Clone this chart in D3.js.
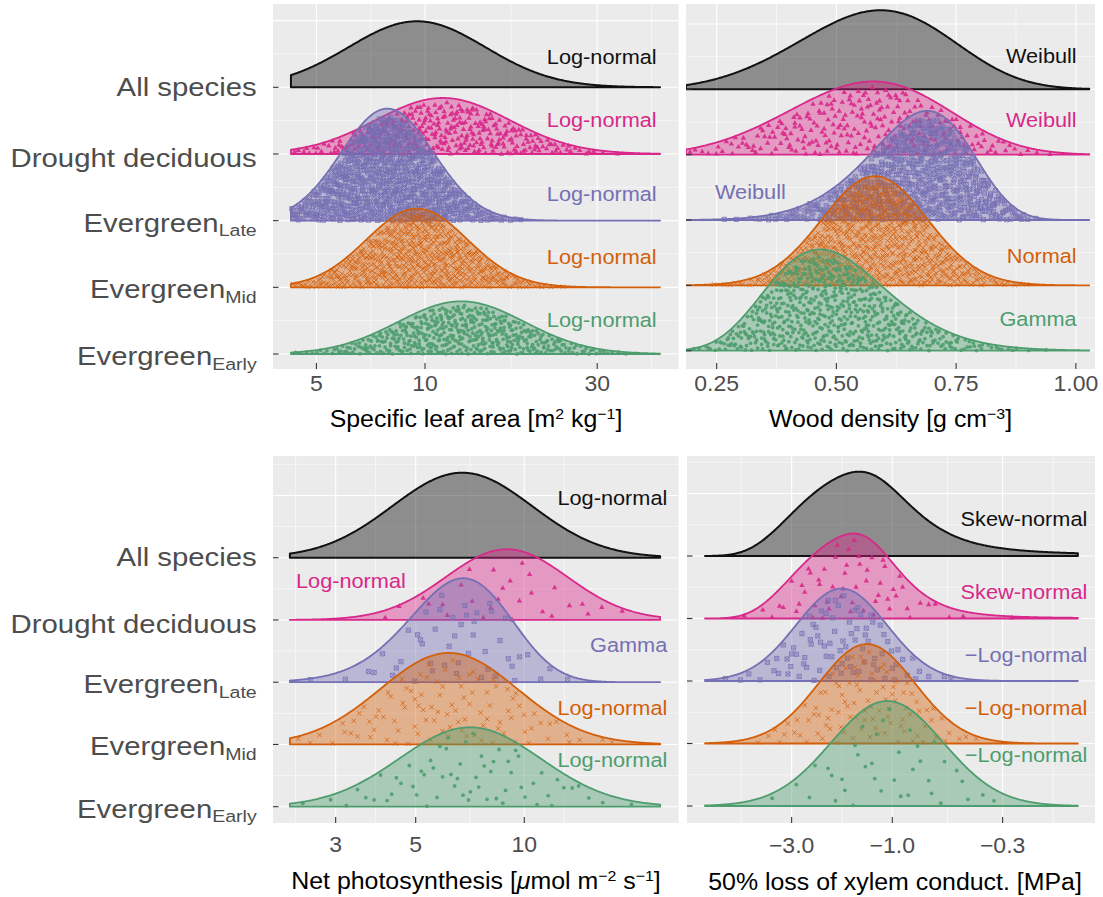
<!DOCTYPE html>
<html><head><meta charset="utf-8">
<script src="https://cdn.jsdelivr.net/npm/d3@7"></script>
<style>
body{margin:0;background:#fff;}
text{font-family:"Liberation Sans", Arial, Helvetica, sans-serif;}
</style></head><body>
<svg id="chart" width="1103" height="897"></svg>
<script>
// ---------------- DATA ----------------
const rowNames = ["All species","Drought deciduous","Evergreen","Evergreen","Evergreen"];
const rowSubs = ["","","Late","Mid","Early"];
const rowColors = ["#111111","#D8288A","#7570B3","#D35F0A","#4E9D6E"];
const rowShapes = ["none","triangle","squarecross","times","circle"];

// Specific leaf area (log axis)
const slaFamilies = ["lognormal","lognormal","lognormal","lognormal","lognormal"];
const slaFitLabels = ["Log-normal","Log-normal","Log-normal","Log-normal","Log-normal"];
const slaParams = [[9.5,0.19],[11.2,0.185],[7.86,0.128],[9.5,0.14],[12.6,0.176]];
const slaPeak = [0.99,0.84,1.68,1.18,0.79];
const slaN = [0,330,800,650,480];
const slaRange = [4.25,44.8];
const slaTicks = [5,10,30];
const slaTickLabels = ["5","10","30"];

// Wood density (linear axis)
const wdFamilies = ["weibull","weibull","weibull","normal","gamma"];
const wdFitLabels = ["Weibull","Weibull","Weibull","Normal","Gamma"];
const wdParams = [[4.2,0.632],[4,0.62],[7,0.705],[0.58,0.11],[15,0.0333]];
const wdPeak = [1.21,1.12,1.67,1.67,1.55];
const wdN = [0,260,650,750,650];
const wdRange = [0.186,1.028];
const wdTicks = [0.25,0.5,0.75,1.0];
const wdTickLabels = ["0.25","0.50","0.75","1.00"];

// Net photosynthesis (log axis)
const amaxFamilies = ["lognormal","lognormal","gamma","lognormal","lognormal"];
const amaxFitLabels = ["Log-normal","Log-normal","Gamma","Log-normal","Log-normal"];
const amaxParams = [[6.73,0.194],[8.94,0.169],[10.5,0.713],[6.18,0.19],[7.07,0.196]];
const amaxPeak = [1.365,1.136,1.67,1.47,1.275];
const amaxN = [0,28,48,100,62];
const amaxRange = [2.24,23.8];
const amaxTicks = [3,5,10];
const amaxTickLabels = ["3","5","10"];

// P50 (negative log axis)
const p50Families = ["skewnormal","skewnormal","neglognormal","neglognormal","neglognormal"];
const p50FitLabels = ["Skew-normal","Skew-normal","\u2212Log-normal","\u2212Log-normal","\u2212Log-normal"];
const p50Params = [[-0.784,1.76,-5],[-0.92,1.64,-5],[1.74,0.215],[1.32,0.228],[1.057,0.265]];
const p50Peak = [1.35,1.36,1.48,1.59,1.68];
const p50N = [0,58,88,98,38];
const p50Range = [-7.72,-0.132];
const p50Ticks = [-3,-1,-0.3];
const p50TickLabels = ["\u22123.0","\u22121.0","\u22120.3"];

// ---------------- LAYOUT ----------------
const panels = [
 {fam:slaFamilies, labels:slaFitLabels, params:slaParams, peak:slaPeak, n:slaN, range:slaRange, ticks:slaTicks, tickLabels:slaTickLabels,
  rect:[273,4,678.5,369], xType:"log", domain:[3.79,50.4], rows:[87.3,354], tickLabelY:391, titleY:427, titleX:476,
  labelX:656.7, labelDy:[23,27,20,23,27], labelLeft:{}, yLabels:true,
  title:[["Specific leaf area [m"],["2","sup"],[" kg"],["\u22121","sup"],["]"]]},
 {fam:wdFamilies, labels:wdFitLabels, params:wdParams, peak:wdPeak, n:wdN, range:wdRange, ticks:wdTicks, tickLabels:wdTickLabels,
  rect:[686,4,1095,369], xType:"linear", domain:[0.186,1.04], rows:[89.3,350.7], tickLabelY:391, titleY:427, titleX:890.5,
  labelX:1076.7, labelDy:[26,28,20.7,22,24.7], labelLeft:{2:715}, yLabels:false,
  title:[["Wood density [g cm"],["\u22123","sup"],["]"]]},
 {fam:amaxFamilies, labels:amaxFitLabels, params:amaxParams, peak:amaxPeak, n:amaxN, range:amaxRange, ticks:amaxTicks, tickLabels:amaxTickLabels,
  rect:[273,456,678.5,823], xType:"log", domain:[2.011,26.76], rows:[557.7,806.7], tickLabelY:852, titleY:889, titleX:476,
  labelX:667.3, labelDy:[52.7,31.7,30,29.7,40], labelLeft:{1:296}, yLabels:true,
  title:[["Net photosynthesis ["],["\u03bc","it"],["mol m"],["\u22122","sup"],[" s"],["\u22121","sup"],["]"]]},
 {fam:p50Families, labels:p50FitLabels, params:p50Params, peak:p50Peak, n:p50N, range:p50Range, ticks:p50Ticks, tickLabels:p50TickLabels,
  rect:[687,456,1095,823], xType:"neglog", domain:[-0.973,0.9607], rows:[556,806], tickLabelY:853, titleY:890, titleX:895,
  labelX:1087.3, labelDy:[30,20,19,29,44.3], labelLeft:{}, yLabels:false,
  title:[["50% loss of xylem conduct. [MPa]"]]}
];
const yLabelDy = [8.7,13.3,11,11,11];

// ---------------- HELPERS ----------------
function erf(x){const s=Math.sign(x);x=Math.abs(x);const t=1/(1+0.3275911*x);
 const y=1-(((((1.061405429*t-1.453152027)*t)+1.421413741)*t-0.284496736)*t+0.254829592)*t*Math.exp(-x*x);return s*y;}
const Phi = z => 0.5*(1+erf(z/Math.SQRT2));
const phi = z => Math.exp(-0.5*z*z)/Math.sqrt(2*Math.PI);
function density(fam,p,v){
  switch(fam){
    case "lognormal": { if(v<=0) return 0; const z=(Math.log10(v)-Math.log10(p[0]))/p[1]; return Math.exp(-0.5*z*z); }
    case "neglognormal": { if(v>=0) return 0; const z=(Math.log10(-v)-Math.log10(p[0]))/p[1]; return Math.exp(-0.5*z*z); }
    case "weibull": { if(v<=0) return 0; const k=p[0],l=p[1],r=v/l; return (k/l)*Math.pow(r,k-1)*Math.exp(-Math.pow(r,k)); }
    case "gamma": { if(v<=0) return 0; return Math.exp((p[0]-1)*Math.log(v)-v/p[1]); }
    case "normal": { const z=(v-p[0])/p[1]; return Math.exp(-0.5*z*z); }
    case "skewnormal": { const z=(v-p[0])/p[1]; return 2*phi(z)*Phi(p[2]*z); }
  }
  return 0;
}
// deterministic low-discrepancy (Halton) sequence used to spread the points
function halton(k,b){ let f=1,r=0; while(k>0){ f/=b; r+=f*(k%b); k=Math.floor(k/b);} return r; }
function symbolPath(shape){
  switch(shape){
    case "triangle": { const s=5.4,h=s*0.866; return `M0,${-h*0.62}L${s/2},${h*0.38}L${-s/2},${h*0.38}Z`; }
    case "squarecross": { const a=2.1; return `M${-a},${-a}H${a}V${a}H${-a}ZM${-a},${-a}L${a},${a}M${-a},${a}L${a},${-a}`; }
    case "times": { const a=2.2; return `M${-a},${-a}L${a},${a}M${-a},${a}L${a},${-a}`; }
    case "circle": { const r=1.9; return `M${r},0A${r},${r} 0 1,1 ${-r},0A${r},${r} 0 1,1 ${r},0Z`; }
  }
  return "";
}
function sText(g,x,y,sx,anchor){
  return g.append("text").attr("transform",`translate(${x},${y}) scale(${sx},1)`).attr("text-anchor",anchor);
}

const svg = d3.select("#chart");
svg.append("rect").attr("width",1103).attr("height",897).attr("fill","#fff");

panels.forEach((P,pi)=>{
  const [x0,y0,x1,y1]=P.rect;
  let fwd,inv,xs;
  if(P.xType==="log"){ const sc=d3.scaleLog().domain(P.domain).range([x0,x1]); xs=v=>sc(v); fwd=v=>Math.log10(v); inv=u=>Math.pow(10,u); }
  else if(P.xType==="linear"){ const sc=d3.scaleLinear().domain(P.domain).range([x0,x1]); xs=v=>sc(v); fwd=v=>v; inv=u=>u; }
  else { const sc=d3.scaleLinear().domain(P.domain).range([x0,x1]); fwd=v=>-Math.log10(-v); inv=u=>-Math.pow(10,-u); xs=v=>sc(fwd(v)); }
  const y=d3.scaleLinear().domain([0,4]).range(P.rows);
  const g=svg.append("g");
  const cid="clip"+pi;
  svg.append("clipPath").attr("id",cid).append("rect").attr("x",x0).attr("y",y0).attr("width",x1-x0).attr("height",y1-y0);
  g.append("rect").attr("x",x0).attr("y",y0).attr("width",x1-x0).attr("height",y1-y0).attr("fill","#EBEBEB");
  const grid=g.append("g").attr("clip-path",`url(#${cid})`);
  for(let r=-3;r<=6;r+=0.5){ const yy=y(r); if(yy<=y0||yy>=y1) continue;
    grid.append("line").attr("x1",x0).attr("x2",x1).attr("y1",yy).attr("y2",yy).attr("stroke","#fff").attr("stroke-width",Number.isInteger(r)?1.1:0.55); }
  const tb=P.ticks.map(fwd); const bd=tb[1]-tb[0];
  const ext=[tb[0]-bd,...tb,tb[tb.length-1]+bd];
  const minors=[]; for(let i=0;i<ext.length-1;i++) minors.push((ext[i]+ext[i+1])/2);
  minors.forEach(u=>{ const xx=xs(inv(u)); if(xx<=x0||xx>=x1) return;
    grid.append("line").attr("x1",xx).attr("x2",xx).attr("y1",y0).attr("y2",y1).attr("stroke","#fff").attr("stroke-width",0.55); });
  P.ticks.forEach(t=>{ const xx=xs(t);
    grid.append("line").attr("x1",xx).attr("x2",xx).attr("y1",y0).attr("y2",y1).attr("stroke","#fff").attr("stroke-width",1.1); });

  const ridges=g.append("g").attr("clip-path",`url(#${cid})`);
  const u0=fwd(P.range[0]), u1=fwd(P.range[1]);
  const NS=400;
  P.fam.forEach((fam,i)=>{
    const samples=d3.range(NS+1).map(k=>{ const u=u0+(u1-u0)*k/NS; const v=inv(u); return {u,v,d:density(fam,P.params[i],v)}; });
    const mx=d3.max(samples,s=>s.d);
    samples.forEach(s=>{ s.h=P.peak[i]*s.d/mx; });
    const area=d3.area().x(s=>xs(s.v)).y0(y(i)).y1(s=>y(i-s.h)).curve(d3.curveLinear);
    const col=rowColors[i];
    ridges.append("path").attr("d",area(samples)).attr("fill",i===0?"#000":col).attr("fill-opacity",i===0?0.4:0.42).attr("stroke","none");
    const n=P.n[i];
    if(n>0){
      const cdf=[]; let s=0; samples.forEach(o=>{ s+=o.d; cdf.push(s); });
      const pg=ridges.append("g");
      const shape=rowShapes[i];
      const pth=symbolPath(shape);
      const off=7+13*i+29*pi;
      for(let k=0;k<n;k++){
        const q=halton(k+off,2)*s;
        const idx=Math.min(NS,d3.bisectLeft(cdf,q));
        const o=samples[idx];
        const frac=halton(k+off,3);
        const px=xs(o.v), py=y(i-0.93*frac*o.h);
        const el=pg.append("path").attr("d",pth).attr("transform",`translate(${px},${py})`);
        if(shape==="triangle"||shape==="circle") el.attr("fill",col).attr("fill-opacity",0.9).attr("stroke","none");
        else el.attr("fill","none").attr("stroke",col).attr("stroke-width",0.9).attr("stroke-opacity",0.85);
      }
    }
    ridges.append("path").attr("d",area(samples)).attr("fill","none").attr("stroke",col).attr("stroke-width",i===0?2:1.8).attr("stroke-linejoin","round");
  });
  P.labels.forEach((lab,i)=>{
    const left=P.labelLeft[i];
    sText(g, left!==undefined?left:P.labelX, y(i)-P.labelDy[i], 1.06, left!==undefined?"start":"end")
      .attr("font-size",20.5).attr("fill",i===0?"#111":rowColors[i]).text(lab);
  });
  P.ticks.forEach((t,j)=>{
    const xx=xs(t);
    g.append("line").attr("x1",xx).attr("x2",xx).attr("y1",y1).attr("y2",y1-6).attr("stroke","#333").attr("stroke-width",1.1);
    sText(g,xx,P.tickLabelY,1.07,"middle").attr("font-size",21.5).attr("fill","#4D4D4D").text(P.tickLabels[j]);
  });
  rowNames.forEach((nm,i)=>{
    g.append("line").attr("x1",x0).attr("x2",x0+5.5).attr("y1",y(i)).attr("y2",y(i)).attr("stroke","#333").attr("stroke-width",1.1);
    if(P.yLabels){
      const t=sText(g,256.7,y(i)+yLabelDy[i],1.15,"end").attr("font-size",25.5).attr("fill","#4D4D4D");
      t.append("tspan").text(nm);
      if(rowSubs[i]) t.append("tspan").attr("font-size",17).attr("dy",4.5).text(rowSubs[i]);
    }
  });
  const tt=sText(g,P.titleX,P.titleY,1.06,"middle").attr("font-size",23.5).attr("fill","#000");
  let prevSup=false;
  P.title.forEach(part=>{
    const sp=tt.append("tspan").text(part[0]);
    const isSup=part[1]==="sup";
    if(isSup) sp.attr("font-size",15).attr("dy",-8.5);
    else if(prevSup) sp.attr("dy",8.5);
    if(part[1]==="it") sp.attr("font-style","italic");
    prevSup=isSup;
  });
});
</script>
</body></html>
